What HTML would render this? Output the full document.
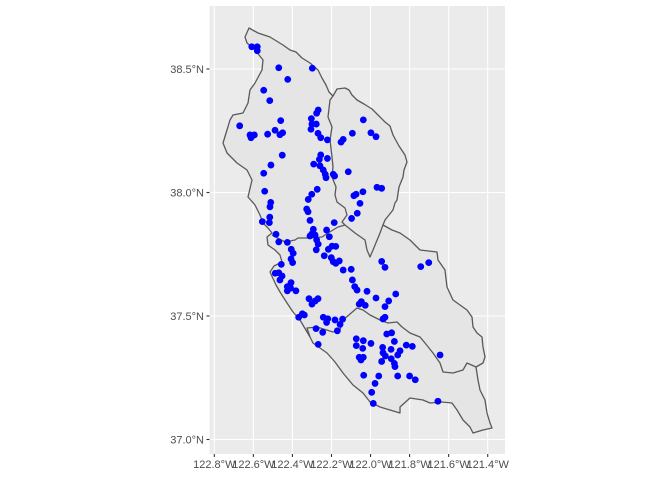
<!DOCTYPE html>
<html><head><meta charset="utf-8">
<style>
html,body{margin:0;padding:0;background:#fff;}
svg{display:block;font-family:"Liberation Sans",sans-serif;}
</style></head>
<body>
<svg id="chart" width="672" height="480" viewBox="0 0 672 480">
<rect x="209.5" y="6" width="295.5" height="448" fill="#ebebeb"/>
<g id="grid"></g>
<g fill="#e5e5e5" stroke="#595959" stroke-width="1.3" stroke-linejoin="round">
<path d="M249,28 L258,33 L270,37 L283,45 L290,50 L296,52 L302,58 L310,63 L318,70 L322,78 L326,85 L329,92 L333,96 L337,89 L345,88 L349,90 L352,95 L357,100 L364,104 L372,109 L376,113 L380,117 L385,122 L390,126 L393,135 L399,146 L405,155 L407,162 L404,170 L403,177 L399,187 L397,200 L395,203 L393,210 L385,220 L383,225 L392,230 L400,233 L410,240 L420,250 L437,252 L438,260 L445,270 L447,287 L453,300 L467,310 L472,317 L473,327 L477,333 L482,337 L483,347 L485,357 L483,363 L476,367 L478,380 L480,390 L485,400 L487,413 L490,423 L492,428 L483,430 L473,433 L470,427 L463,420 L457,410 L452,403 L442,402 L430,403 L423,400 L410,398 L400,407 L400,413 L380,407 L370,402 L363,393 L353,385 L343,373 L335,362 L327,353 L313,343 L310,337 L300,320 L293,312 L287,303 L280,292 L276,285 L270,272 L274,266 L282,262 L280,255 L275,250 L268,245 L267,237 L272,233 L268,228 L263,223 L260,215 L255,205 L248,197 L252,180 L247,170 L237,163 L227,153 L223,143 L227,130 L230,120 L233,115 L243,113 L248,103 L250,90 L255,83 L262,70 L263,60 L255,50 L247,43 L245,37 Z"/>
<path fill="none" d="M333,96 L330,100 L328,117 L332,127 L330,140 L332,157 L333,167 L332,177 L336,187 L335,195 L337,202 L345,208 L347,215 L342,222 L345,225"/>
<path fill="none" d="M345,225 L355,233 L365,240 L367,250 L370,257 L373,250 L380,233 L383,225"/>
<path fill="none" d="M272,235 L285,242 L295,240 L298,238 L308,238 L322,237 L328,233 L338,227 L345,225"/>
<path fill="none" d="M310,337 L307,328 L317,327 L333,332 L340,330 L343,320 L357,308 L363,310 L370,315 L380,320 L388,323 L397,322 L402,327 L410,333 L420,337 L425,343 L433,353 L440,363 L443,372 L453,373 L463,370 L467,363 L476,367"/>
</g>
<g id="points"></g>
<g id="axes"></g>
</svg>
<script>
const lonTicks = [-122.8,-122.6,-122.4,-122.2,-122.0,-121.8,-121.6,-121.4];
const lonLabels = ["122.8°W","122.6°W","122.4°W","122.2°W","122.0°W","121.8°W","121.6°W","121.4°W"];
const latTicks = [37.0,37.5,38.0,38.5];
const latLabels = ["37.0°N","37.5°N","38.0°N","38.5°N"];
const stationLon = [-122.608,-122.580,-122.580,-122.470,-122.298,-122.424,-122.547,-122.516,-122.268,-122.276,-122.303,-122.278,-122.300,-122.305,-122.460,-122.670,-122.617,-122.595,-122.612,-122.527,-122.489,-122.464,-122.450,-122.269,-122.255,-122.221,-122.037,-122.093,-122.140,-122.151,-121.998,-121.972,-122.452,-122.510,-122.547,-122.255,-122.262,-122.221,-122.291,-122.259,-122.242,-122.232,-122.228,-122.191,-122.184,-122.114,-122.273,-122.301,-122.319,-121.967,-121.943,-122.039,-122.074,-122.085,-122.054,-122.068,-122.097,-122.542,-122.511,-122.515,-122.327,-122.320,-122.310,-122.516,-122.554,-122.518,-122.484,-122.293,-122.301,-122.225,-122.186,-122.211,-122.470,-122.426,-122.310,-122.284,-122.276,-122.268,-122.406,-122.396,-122.407,-122.399,-122.278,-122.216,-122.197,-122.178,-122.237,-122.201,-122.191,-122.160,-122.178,-122.457,-122.140,-122.099,-121.943,-121.926,-121.743,-121.702,-122.488,-122.470,-122.453,-122.464,-122.407,-122.426,-122.426,-122.382,-122.409,-122.093,-122.081,-122.069,-122.018,-121.972,-121.871,-121.907,-121.926,-122.315,-122.269,-122.300,-122.283,-122.047,-122.027,-122.058,-122.349,-122.368,-122.339,-122.242,-122.219,-122.225,-122.182,-122.143,-122.156,-121.936,-121.926,-122.279,-122.245,-122.170,-121.917,-121.892,-122.073,-122.037,-122.073,-122.040,-121.998,-121.878,-121.817,-121.786,-122.268,-121.938,-121.895,-121.936,-121.924,-121.849,-121.861,-121.894,-121.878,-121.875,-122.058,-122.037,-122.049,-121.943,-121.644,-122.035,-121.958,-121.861,-121.800,-121.771,-121.977,-121.994,-121.986,-121.655];
const stationLat = [38.590,38.590,38.574,38.505,38.503,38.458,38.414,38.372,38.334,38.321,38.299,38.277,38.277,38.256,38.291,38.270,38.233,38.233,38.222,38.236,38.252,38.234,38.242,38.240,38.222,38.213,38.294,38.240,38.215,38.204,38.242,38.226,38.151,38.111,38.078,38.152,38.134,38.138,38.115,38.108,38.091,38.074,38.060,38.074,38.067,38.084,38.013,37.993,37.972,38.021,38.017,38.003,37.993,37.987,37.956,37.916,37.895,38.005,37.960,37.942,37.933,37.922,37.887,37.900,37.882,37.878,37.831,37.851,37.832,37.848,37.878,37.821,37.800,37.798,37.824,37.828,37.808,37.791,37.770,37.754,37.731,37.716,37.768,37.770,37.783,37.782,37.744,37.736,37.720,37.723,37.713,37.709,37.686,37.689,37.721,37.697,37.700,37.716,37.673,37.675,37.662,37.646,37.635,37.619,37.602,37.602,37.613,37.646,37.619,37.605,37.600,37.573,37.589,37.561,37.538,37.570,37.570,37.548,37.561,37.558,37.543,37.548,37.509,37.495,37.504,37.495,37.489,37.474,37.484,37.487,37.466,37.488,37.495,37.449,37.434,37.440,37.427,37.432,37.408,37.400,37.380,37.369,37.389,37.397,37.382,37.377,37.385,37.373,37.365,37.351,37.338,37.359,37.342,37.327,37.308,37.295,37.333,37.333,37.322,37.316,37.342,37.260,37.257,37.257,37.257,37.242,37.227,37.191,37.146,37.155];

const NS = "http://www.w3.org/2000/svg";
const X0 = 214.3, PXPERLON = 195.3, Y0 = 69, PXPERLAT = 247;
function xScale(lon){ return X0 + (lon + 122.8) * PXPERLON; }
function yScale(lat){ return Y0 + (38.5 - lat) * PXPERLAT; }
function mk(tag, attrs, parent){ const e = document.createElementNS(NS, tag); for (const k in attrs) e.setAttribute(k, attrs[k]); parent.appendChild(e); return e; }

const grid = document.getElementById('grid');
const axes = document.getElementById('axes');
lonTicks.forEach((t,i)=>{
  const x = xScale(t);
  const g = mk('line',{x1:x,x2:x,y1:6,y2:454,stroke:'#fff','stroke-width':1.1},grid);
  
  
  const tk = mk('line',{x1:x,x2:x,y1:454,y2:457,stroke:'#333','stroke-width':1.1},axes);
  
  
  const lb = mk('text',{x:x,y:468,'text-anchor':'middle','font-size':11,fill:'#4d4d4d'},axes);
  lb.textContent = lonLabels[i];
  
  
});
latTicks.forEach((t,i)=>{
  const y = yScale(t);
  const g = mk('line',{x1:209.5,x2:505,y1:y,y2:y,stroke:'#fff','stroke-width':1.1},grid);
  
  
  const tk = mk('line',{x1:206.5,x2:209.5,y1:y,y2:y,stroke:'#333','stroke-width':1.1},axes);
  
  
  const lb = mk('text',{x:204,y:y+4,'text-anchor':'end','font-size':11,fill:'#4d4d4d'},axes);
  lb.textContent = latLabels[i];
  
  
});
const pts = document.getElementById('points');
stationLon.forEach((lon,i)=>{
  const c = mk('circle',{cx:xScale(lon),cy:yScale(stationLat[i]),r:3.4,fill:'#0000ff'},pts);
  
  
});
</script>
</body></html>
